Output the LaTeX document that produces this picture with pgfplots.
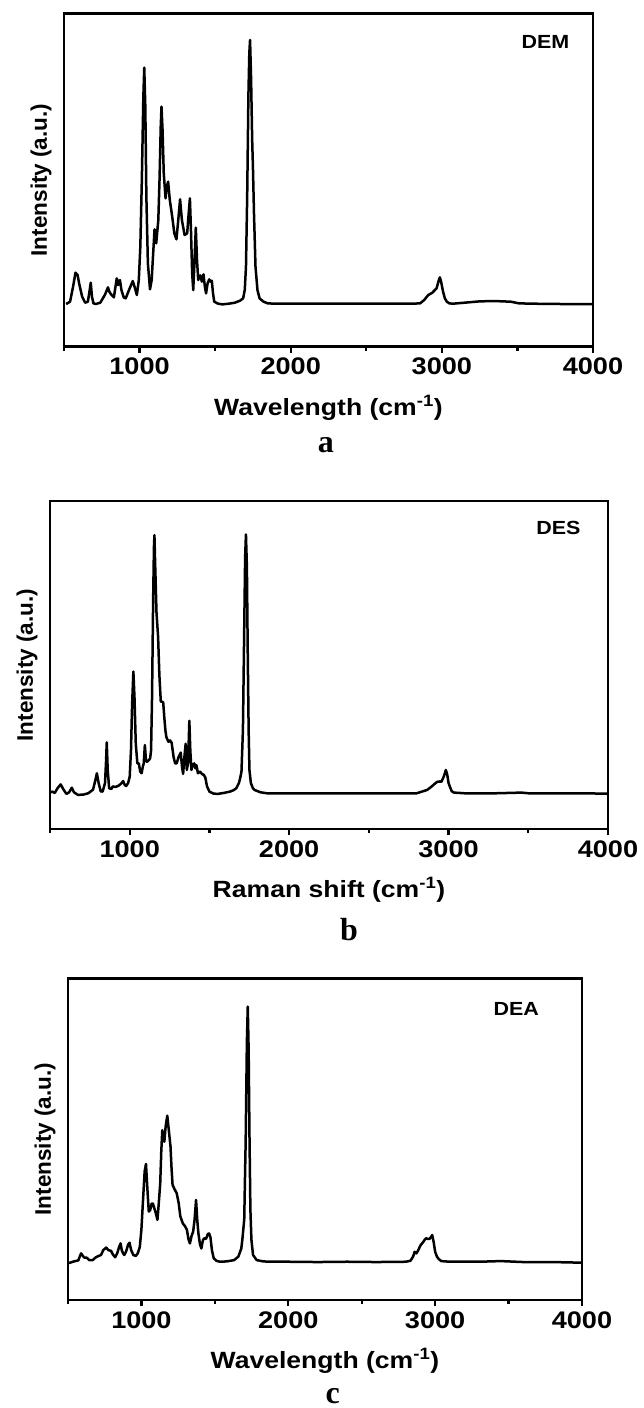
\documentclass[border=0pt]{standalone}
\usepackage{fontspec}
\setmainfont{Liberation Sans}
\newfontfamily\serifb{Liberation Serif}
\usepackage{graphicx}
\usepackage{pgfplots}
\pgfplotsset{compat=1.18}
\newcommand\hs[1]{\scalebox{1.13}[1]{#1}}
\pgfplotsset{
 ramanstyle/.style={
  scale only axis, clip=false,
  xmin=500, xmax=4000, ymin=0, ymax=100,
  xtick={1000,2000,3000,4000},
  xticklabels={\hs{1000},\hs{2000},\hs{3000},\hs{4000}},
  minor xtick={500,1500,2500,3500},
  ytick=\empty,
  tick align=outside,
  xtick pos=bottom,
  major tick length=6pt, minor tick length=4pt,
  axis line style={line width=2.9pt},
  every tick/.style={black, line width=2.2pt},
  xticklabel style={font=\fontsize{24}{24}\selectfont\bfseries, anchor=base, yshift=-22pt},
  xlabel style={font=\fontsize{23.5}{24}\selectfont\bfseries, at={(axis description cs:0.5,0)}, anchor=center, yshift=-61pt},
  ylabel style={font=\fontsize{22.5}{22}\selectfont\bfseries, at={([xshift=-23pt]axis description cs:0,0.5)}, anchor=center},
  ylabel={Intensity (a.u.)},
 },
 spec/.style={black, line width=2.5pt, line join=round, no markers},
}
\begin{document}
\begin{tikzpicture}
\path[use as bounding box] (0pt,0pt) rectangle (644pt,-1408pt);
% ---------------- panel a ----------------
\begin{axis}[ramanstyle, at={(64pt,-13.3pt)}, anchor=north west, width=529pt, height=333.4pt,
  xlabel={\hs{Wavelength (cm\textsuperscript{-1})}}]
\addplot[spec] coordinates {
(514,12.8)(540,13.5)(560,18)(576,22.2)(590,21.5)(600,19)(620,15)(640,13.2)(658,13.5)(670,17)(677,19.2)(685,15)(695,13)(710,12.8)(740,13.2)(770,15.5)(791,17.8)(800,16.5)(815,15.5)(830,14.8)(849,20.5)(858,18.5)(870,20)(880,17)(895,14.8)(908,14.5)(930,17)(955,19.7)(970,17.5)(982,15.5)(995,20)(1005,30)(1015,50)(1025,75)(1031,83.7)(1038,72)(1045,45)(1055,25)(1069,17.2)(1080,20)(1090,28)(1099,35.2)(1110,31)(1118,35)(1124,38)(1132,50)(1140,66)(1145,72)(1152,65)(1160,52)(1172,44.5)(1180,48)(1189,49.5)(1200,44)(1216,39)(1230,34)(1244,32.2)(1256,38)(1268,44.2)(1280,38)(1298,33.5)(1315,34)(1325,40)(1333,44.5)(1340,35)(1348,22)(1355,17)(1362,24)(1372,35.7)(1380,26)(1388,20)(1395,21)(1402,21.4)(1412,19.5)(1423,21.7)(1432,18)(1440,16)(1450,19)(1461,20.2)(1470,19.5)(1478,19.8)(1486,16)(1494,13.5)(1520,12.9)(1548,12.7)(1590,12.9)(1630,13.2)(1665,13.8)(1685,14.5)(1696,17)(1704,24)(1712,45)(1720,75)(1726,88)(1731,92)(1738,80)(1745,62)(1750,54)(1757,40)(1767,24)(1780,17)(1794,14.5)(1820,13.5)(1848,13)(1900,12.9)(2000,12.9)(2200,12.9)(2400,12.9)(2600,12.9)(2800,12.9)(2856,13)(2883,14)(2910,15.5)(2937,16.2)(2950,16.8)(2965,17.5)(2980,20)(2987,20.8)(2995,19.5)(3008,16.5)(3020,14.5)(3033,13.5)(3050,13)(3073,12.9)(3150,13.2)(3250,13.6)(3346,13.7)(3455,13.5)(3510,13)(3600,12.9)(3800,12.8)(4000,12.8)
};
\node[font=\fontsize{19}{19}\selectfont\bfseries] at (rel axis cs:0.910,0.914) {\hs{DEM}};
\node[font=\serifb\bfseries\fontsize{32}{32}\selectfont] at (rel axis cs:0.495,0) [yshift=-98pt] {a};
\end{axis}
% ---------------- panel b ----------------
\begin{axis}[ramanstyle, at={(50pt,-501pt)}, anchor=north west, width=558pt, height=328pt,
  xlabel={\hs{Raman shift (cm\textsuperscript{-1})}}]
\addplot[spec] coordinates {
(505,11.2)(515,11.4)(530,11)(548,12.5)(567,13.6)(585,12)(603,10.7)(620,11.2)(637,12.6)(650,11.2)(675,10.4)(710,10.5)(740,10.9)(770,12)(785,15)(794,17)(805,14)(818,11.5)(830,11.4)(845,14)(851,20)(856,26.4)(862,18)(871,12.4)(885,12.2)(894,13)(910,12.8)(930,13.2)(945,13.8)(959,14.6)(968,13.5)(977,13.1)(990,14)(1000,16)(1008,24)(1015,38)(1023,48)(1030,40)(1038,26)(1048,20)(1057,20)(1066,17.5)(1075,17)(1082,19)(1088,20)(1095,25.6)(1102,21)(1108,20.5)(1120,21)(1128,21.5)(1134,24)(1140,40)(1147,70)(1152,86)(1155,89.6)(1160,80)(1168,66)(1178,58.6)(1186,47)(1195,38.8)(1204,38.8)(1210,38.6)(1217,34)(1224,30)(1230,28)(1243,26.6)(1253,27)(1263,26.3)(1275,22)(1285,20)(1294,20)(1307,22)(1320,23.3)(1328,19)(1335,16.8)(1343,22)(1351,26)(1358,18)(1366,20)(1374,33)(1380,24)(1387,18)(1395,19.5)(1405,20)(1412,18.5)(1418,19.5)(1428,17)(1440,17.5)(1456,16.7)(1465,16.5)(1474,15.7)(1485,13)(1500,11.4)(1525,10.8)(1552,10.7)(1590,11)(1629,11.4)(1650,11.8)(1668,12.4)(1685,14)(1695,16)(1701,17.5)(1710,30)(1718,60)(1724,83)(1729,89.8)(1735,80)(1740,55)(1746,30)(1751,18)(1760,14)(1772,12.5)(1783,11.9)(1820,11.2)(1860,10.9)(2000,10.9)(2200,10.9)(2400,10.9)(2600,10.9)(2800,10.9)(2865,11.9)(2890,12.8)(2904,13.4)(2918,14)(2930,14.4)(2945,14.5)(2955,14.4)(2970,16)(2983,18)(2992,16.5)(3000,14)(3009,12.8)(3020,11.5)(3034,11.1)(3100,10.9)(3300,10.9)(3458,11.1)(3500,10.9)(3700,10.9)(4000,10.8)
};
\node[font=\fontsize{19}{19}\selectfont\bfseries] at (rel axis cs:0.911,0.918) {\hs{DES}};
\node[font=\serifb\bfseries\fontsize{32}{32}\selectfont] at (rel axis cs:0.536,0) [yshift=-101pt] {b};
\end{axis}
% ---------------- panel c ----------------
\begin{axis}[ramanstyle, at={(68pt,-978.3pt)}, anchor=north west, width=514pt, height=321.7pt,
  xlabel={\hs{Wavelength (cm\textsuperscript{-1})}}]
\addplot[spec] coordinates {
(505,11.5)(514,11.6)(540,12)(570,12.3)(580,13.5)(589,14.5)(600,13.8)(610,13.2)(626,13.2)(645,12.4)(668,12.4)(690,13.3)(709,13.7)(725,14)(740,15.5)(760,16.3)(775,15.5)(793,15.3)(805,14.2)(821,13.3)(835,14.5)(848,16.5)(858,17.6)(866,15.5)(875,14.5)(883,14)(895,15)(910,17.3)(919,17.8)(930,15.5)(945,14)(961,13.7)(975,14.5)(989,16.5)(1000,22)(1012,32)(1022,40)(1031,42.3)(1040,35)(1050,27.5)(1060,28)(1070,30)(1078,30)(1088,28.5)(1098,27)(1109,24.9)(1118,30)(1128,36.3)(1135,46)(1142,52.8)(1150,50)(1156,49.2)(1165,54)(1176,57.3)(1186,53)(1198,47.7)(1205,41)(1212,35.8)(1225,34.5)(1240,33.2)(1250,31)(1254,30)(1265,26)(1282,23.8)(1296,23)(1310,21.8)(1320,19)(1330,17.6)(1342,20)(1352,21.2)(1362,25)(1372,31.1)(1380,25)(1388,20.7)(1398,17.5)(1408,16)(1418,18.5)(1427,19.2)(1440,19)(1452,20.5)(1461,20.7)(1470,19.5)(1480,15.5)(1492,13)(1510,12.2)(1534,11.9)(1580,12)(1631,12.4)(1660,13.5)(1680,16)(1687,18.7)(1700,25)(1710,50)(1718,80)(1724,91.2)(1730,78)(1736,50)(1742,28)(1749,18.7)(1760,14)(1785,12.4)(1830,12)(1883,11.9)(2000,11.9)(2200,11.8)(2400,11.9)(2600,11.8)(2800,11.9)(2832,12.2)(2850,13.5)(2860,15)(2872,14.5)(2883,15.3)(2895,16.5)(2902,17.1)(2915,17.8)(2930,18.8)(2938,19.2)(2950,19)(2962,19)(2972,19.6)(2980,20.2)(2990,18)(3000,15)(3012,13.5)(3025,12.7)(3042,12.1)(3100,11.9)(3300,11.9)(3447,12.1)(3600,11.8)(3800,11.8)(4000,11.6)
};
\node[font=\fontsize{19}{19}\selectfont\bfseries] at (rel axis cs:0.872,0.904) {\hs{DEA}};
\node[font=\serifb\bfseries\fontsize{32}{32}\selectfont] at (rel axis cs:0.515,0) [yshift=-96pt] {c};
\end{axis}
\end{tikzpicture}
\end{document}
